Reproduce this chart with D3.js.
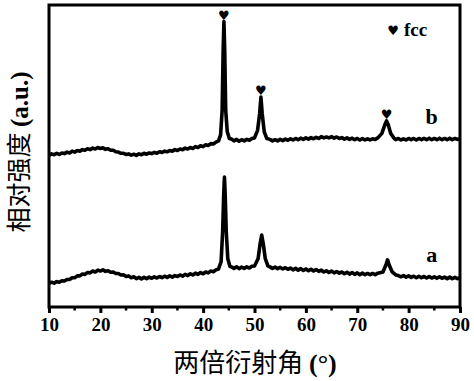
<!DOCTYPE html>
<html>
<head>
<meta charset="utf-8">
<script src="https://cdn.jsdelivr.net/npm/d3@7"></script>
<style>
  body { margin: 0; background: #fff; }
</style>
</head>
<body>
<script>
// diffraction patterns, [2theta, intensity a.u.]
var curveB = [
  [10,50.2],[10.5,50.7],[11,50.4],[11.5,50.9],[12,50.5],[12.5,51.0],[13,50.8],[13.5,51.3],[14,51.0],[14.5,51.6],
  [15,51.3],[15.5,51.8],[16,51.6],[16.5,52.1],[17,51.9],[17.5,52.4],[18,52.1],[18.5,52.6],[19,52.3],[19.5,52.8],
  [20,52.5],[20.5,52.7],[21,52.2],[21.5,52.4],[22,51.9],[22.5,51.9],[23,51.4],[23.5,51.3],[24,50.9],[24.5,50.9],
  [25,50.5],[25.5,50.7],[26,50.3],[26.5,50.6],[27,50.2],[27.5,50.7],[28,50.4],[28.5,50.9],[29,50.6],[29.5,51.0],
  [30,50.8],[30.5,51.2],[31,50.9],[31.5,51.4],[32,51.2],[32.5,51.6],[33,51.4],[33.5,51.8],[34,51.6],[34.5,52.1],
  [35,51.8],[35.5,52.3],[36,52.1],[36.5,52.6],[37,52.3],[37.5,52.8],[38,52.5],[38.5,53.1],[39,52.8],[39.5,53.4],
  [40,53.1],[40.5,53.7],[41,53.5],[41.5,54.1],[42,54.0],[42.5,54.6],[43,55.0],[43.4,57.0],[43.7,65.0],[43.9,85.0],
  [44.05,94.5],[44.2,85.0],[44.4,65.0],[44.7,58.0],[45.1,55.8],[45.5,55.6],[46,55.0],[46.5,55.5],[47,54.9],[47.5,55.4],
  [48,55.0],[48.5,55.5],[49,55.2],[49.5,55.8],[50,56.0],[50.6,58.5],[51.0,64.0],[51.25,69.5],[51.5,64.0],[51.9,58.0],
  [52.4,55.8],[53,55.5],[53.5,55.0],[54,55.4],[54.5,55.0],[55,55.5],[55.5,55.1],[56,55.6],[56.5,55.2],[57,55.7],
  [57.5,55.3],[58,55.8],[58.5,55.4],[59,55.9],[59.5,55.5],[60,56.0],[60.5,55.6],[61,56.1],[61.5,55.7],[62,56.2],
  [62.5,55.8],[63,56.4],[63.5,56.0],[64,56.3],[64.5,56.0],[65,56.4],[65.5,55.9],[66,56.3],[66.5,55.8],[67,56.1],
  [67.5,55.6],[68,56.0],[68.5,55.5],[69,55.9],[69.5,55.4],[70,55.8],[70.5,55.3],[71,55.8],[71.5,55.3],[72,55.7],
  [72.5,55.3],[73,55.7],[73.5,55.5],[74,56.0],[74.8,57.5],[75.4,60.5],[75.7,61.6],[76.0,60.5],[76.5,57.5],[77.2,55.8],
  [77.5,55.4],[78,55.8],[78.5,55.3],[79,55.7],[79.5,55.3],[80,55.8],[80.5,55.4],[81,55.8],[81.5,55.3],[82,55.8],
  [82.5,55.4],[83,55.8],[83.5,55.4],[84,55.9],[84.5,55.4],[85,55.8],[85.5,55.4],[86,55.9],[86.5,55.4],[87,55.8],
  [87.5,55.4],[88,55.9],[88.5,55.4],[89,55.8],[89.5,55.5],[90,55.7]
];

var curveA = [
  [10,7.8],[10.5,8.2],[11,7.9],[11.5,8.4],[12,8.2],[12.5,8.7],[13,8.6],[13.5,9.1],[14,9.1],[14.5,9.7],
  [15,9.7],[15.5,10.3],[16,10.3],[16.5,10.9],[17,10.8],[17.5,11.4],[18,11.3],[18.5,11.9],[19,11.6],[19.5,12.2],
  [20,11.9],[20.5,12.3],[21,11.8],[21.5,12.0],[22,11.5],[22.5,11.6],[23,11.1],[23.5,11.1],[24,10.6],[24.5,10.7],
  [25,10.1],[25.5,10.3],[26,9.7],[26.5,10.0],[27,9.4],[27.5,9.8],[28,9.3],[28.5,9.8],[29,9.4],[29.5,9.9],
  [30,9.5],[30.5,10.0],[31,9.6],[31.5,10.1],[32,9.7],[32.5,10.2],[33,9.8],[33.5,10.3],[34,9.9],[34.5,10.4],
  [35,10.1],[35.5,10.6],[36,10.2],[36.5,10.8],[37,10.4],[37.5,11.0],[38,10.6],[38.5,11.2],[39,10.8],[39.5,11.4],
  [40,11.0],[40.5,11.6],[41,11.3],[41.5,11.9],[42,11.7],[42.5,12.3],[43,12.6],[43.5,15.0],[43.8,25.0],[44.0,37.0],
  [44.15,43.0],[44.3,37.0],[44.5,25.0],[44.8,16.0],[45.2,13.5],[45.6,13.2],[46,12.8],[46.5,13.3],[47,12.7],[47.5,13.2],
  [48,12.8],[48.5,13.3],[49,12.9],[49.5,13.5],[50,13.6],[50.7,16.0],[51.1,21.0],[51.4,23.8],[51.7,21.0],[52.1,16.0],
  [52.6,13.6],[53,13.3],[53.5,12.8],[54,13.2],[54.5,12.7],[55,13.1],[55.5,12.6],[56,13.0],[56.5,12.5],[57,12.9],
  [57.5,12.3],[58,12.8],[58.5,12.2],[59,12.7],[59.5,12.1],[60,12.6],[60.5,12.0],[61,12.5],[61.5,11.9],[62,12.4],
  [62.5,11.8],[63,12.2],[63.5,11.6],[64,12.0],[64.5,11.4],[65,11.9],[65.5,11.3],[66,11.7],[66.5,11.2],[67,11.6],
  [67.5,11.0],[68,11.5],[68.5,10.9],[69,11.4],[69.5,10.8],[70,11.3],[70.5,10.7],[71,11.2],[71.5,10.7],[72,11.1],
  [72.5,10.7],[73,11.1],[73.5,10.7],[74,11.2],[75,11.6],[75.6,14.0],[75.9,15.6],[76.2,14.0],[76.8,11.6],[77.5,10.6],
  [78,10.4],[78.5,10.0],[79,10.4],[79.5,9.9],[80,10.3],[80.5,9.8],[81,10.2],[81.5,9.7],[82,10.2],[82.5,9.7],
  [83,10.1],[83.5,9.6],[84,10.1],[84.5,9.6],[85,10.0],[85.5,9.5],[86,10.0],[86.5,9.5],[87,9.9],[87.5,9.4],
  [88,9.9],[88.5,9.4],[89,9.8],[89.5,9.4],[90,9.7]
];

var fccPeaks = [[44.05, 94.5], [51.25, 69.5], [75.7, 61.6]];
var seriesLabels = [["b", 84.5, 60.5], ["a", 84.5, 15.0]];
var xTicks = [10, 20, 30, 40, 50, 60, 70, 80, 90];
var xMinorTicks = [15, 25, 35, 45, 55, 65, 75, 85];

window.onload = function() {
  var w = 474;
  var h = 381;
  var padL = 49, padR = 460, padT = 5, padB = 307;

  var svg = d3.select("body")
      .append("svg")
      .attr("width", w)
      .attr("height", h);

  var x = d3.scaleLinear().domain([10, 90]).range([padL, padR]);
  var y = d3.scaleLinear().domain([0, 100]).range([padB, padT]);

  var line = d3.line()
      .x(function(d){ return x(d[0]); })
      .y(function(d){ return y(d[1]); });

  // curves
  [curveA, curveB].forEach(function(c){
    svg.append("path")
        .datum(c)
        .attr("d", line)
        .attr("fill", "none")
        .attr("stroke", "#000")
        .attr("stroke-width", 3.6)
        .attr("stroke-linejoin", "round");
  });

  // frame
  svg.append("rect")
      .attr("x", padL)
      .attr("y", padT)
      .attr("width", padR - padL)
      .attr("height", padB - padT)
      .attr("fill", "none")
      .attr("stroke", "#000")
      .attr("stroke-width", 3);

  // bottom axis
  var xAxis = d3.axisBottom(x)
      .tickValues(xTicks)
      .tickSize(6)
      .tickPadding(5)
      .tickFormat(d3.format("d"));

  var gx = svg.append("g")
      .attr("transform", "translate(0," + padB + ")")
      .call(xAxis);
  gx.select(".domain").remove();
  gx.selectAll("line").attr("stroke-width", 3);
  gx.selectAll("text")
      .attr("font-family", "'Liberation Serif', 'Times New Roman', serif")
      .attr("font-weight", "bold")
      .attr("font-size", 19)
      .attr("fill", "#000");

  svg.append("g")
      .selectAll("line")
      .data(xMinorTicks)
      .enter()
      .append("line")
      .attr("x1", function(d){ return x(d); })
      .attr("x2", function(d){ return x(d); })
      .attr("y1", padB)
      .attr("y2", padB + 3.5)
      .attr("stroke", "#000")
      .attr("stroke-width", 2.5);

  // hearts over fcc peaks
  svg.selectAll(".heart")
      .data(fccPeaks)
      .enter()
      .append("text")
      .attr("class", "heart")
      .attr("x", function(d){ return x(d[0]); })
      .attr("y", function(d){ return y(d[1]) - 2; })
      .attr("text-anchor", "middle")
      .attr("font-family", "'DejaVu Sans', sans-serif")
      .attr("font-size", 13)
      .text("\u2665");

  // legend
  svg.append("text")
      .attr("x", 393)
      .attr("y", 35)
      .attr("text-anchor", "middle")
      .attr("font-family", "'DejaVu Sans', sans-serif")
      .attr("font-size", 13)
      .text("\u2665");
  svg.append("text")
      .attr("x", 404)
      .attr("y", 36)
      .attr("font-family", "'Liberation Serif', 'Times New Roman', serif")
      .attr("font-weight", "bold")
      .attr("font-size", 19)
      .text("fcc");

  // series labels
  svg.selectAll(".slabel")
      .data(seriesLabels)
      .enter()
      .append("text")
      .attr("class", "slabel")
      .attr("x", function(d){ return x(d[1]); })
      .attr("y", function(d){ return y(d[2]); })
      .attr("text-anchor", "middle")
      .attr("font-family", "'Liberation Serif', 'Times New Roman', serif")
      .attr("font-weight", "bold")
      .attr("font-size", 22)
      .text(function(d){ return d[0]; });

  // axis titles
  var xt = svg.append("text")
      .attr("x", 255)
      .attr("y", 372)
      .attr("text-anchor", "middle")
      .attr("font-size", 26);
  xt.append("tspan")
      .attr("font-family", "'Noto Sans CJK SC', sans-serif")
      .text("两倍衍射角 ");
  xt.append("tspan")
      .attr("font-family", "'Liberation Serif', serif")
      .attr("font-weight", "bold")
      .text("(°)");

  var yt = svg.append("text")
      .attr("transform", "translate(28,152) rotate(-90)")
      .attr("text-anchor", "middle")
      .attr("font-size", 25);
  yt.append("tspan")
      .attr("font-family", "'Noto Sans CJK SC', sans-serif")
      .text("相对强度 ");
  yt.append("tspan")
      .attr("font-family", "'Liberation Serif', serif")
      .attr("font-weight", "bold")
      .text("(a.u.)");
};
</script>
</body>
</html>
